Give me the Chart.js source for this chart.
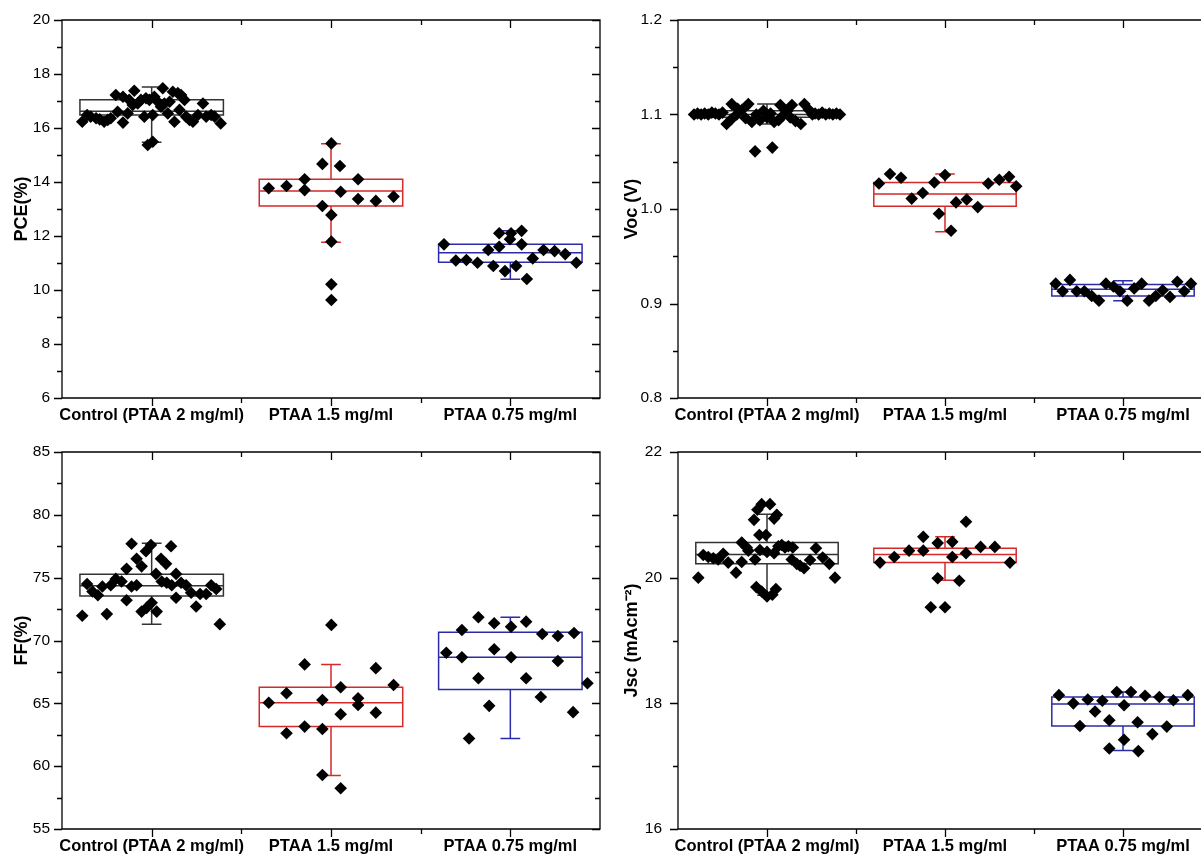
<!DOCTYPE html>
<html>
<head>
<meta charset="utf-8">
<script src="https://cdn.jsdelivr.net/npm/chart.js@4.4.0/dist/chart.umd.min.js"></script>
<style>
body { margin: 0; background: #fff; overflow: hidden; width: 1201px; height: 861px; position: relative; }
canvas { position: absolute; }
</style>
</head>
<body>
<canvas id="pce" width="612" height="432" style="left:0;top:0"></canvas>
<canvas id="voc" width="615" height="432" style="left:615px;top:0"></canvas>
<canvas id="ff" width="612" height="429" style="left:0;top:432px"></canvas>
<canvas id="jsc" width="615" height="429" style="left:615px;top:432px"></canvas>
<script>
// categories
const categories = ['Control (PTAA 2 mg/ml)', 'PTAA 1.5 mg/ml', 'PTAA 0.75 mg/ml'];
const boxColors = ['#333333', '#d42a2a', '#2b2ba8'];

// points: [x offset from category centre, value]
const pceControl = [[-0.387,16.23],[-0.36,16.48],[-0.34,16.42],[-0.31,16.36],[-0.29,16.32],[-0.265,16.23],[-0.245,16.30],[-0.228,16.36],[-0.19,16.6],[-0.16,16.2],[-0.134,16.54],[-0.097,17.38],[-0.2,17.22],[-0.16,17.16],[-0.125,17.04],[-0.106,16.85],[-0.078,16.91],[-0.06,17.04],[-0.041,16.42],[-0.032,17.1],[-0.013,17.04],[0.006,16.48],[0.015,17.16],[0.034,16.97],[0.062,17.47],[0.052,16.79],[0.071,16.91],[0.09,16.54],[0.1,16.97],[0.118,17.34],[0.127,16.23],[0.146,17.29],[0.155,16.67],[0.164,17.22],[0.183,17.04],[0.192,16.42],[0.211,16.3],[0.23,16.23],[0.258,16.48],[0.286,16.91],[0.304,16.42],[0.332,16.48],[0.351,16.42],[0.385,16.17],[-0.022,15.37],[0.006,15.49]];
const pce15 = [[0.002,15.43],[-0.048,14.67],[0.05,14.59],[-0.147,14.1],[0.151,14.1],[-0.347,13.77],[-0.248,13.85],[-0.147,13.7],[0.054,13.64],[0.151,13.37],[0.25,13.3],[0.349,13.46],[-0.048,13.11],[0.002,12.78],[0.002,11.79],[0.002,10.21],[0.002,9.63]];
const pce075 = [[-0.37,11.69],[-0.304,11.09],[-0.245,11.11],[-0.183,11.01],[-0.123,11.48],[-0.095,10.89],[-0.062,12.1],[-0.062,11.6],[-0.03,10.7],[-0.002,11.88],[0.004,12.1],[0.032,10.89],[0.063,12.19],[0.063,11.69],[0.092,10.41],[0.125,11.17],[0.185,11.48],[0.247,11.44],[0.306,11.33],[0.368,11.01]];
// box stats: [low whisker, q1, median, q3, high whisker]
const pceBox = [[15.47,16.48,16.62,17.05,17.52],[11.77,13.11,13.67,14.1,15.42],[10.4,11.03,11.38,11.69,12.19]];

const vocControl = [[-0.41,1.100],[-0.39,1.101],[-0.37,1.100],[-0.35,1.101],[-0.33,1.100],[-0.31,1.102],[-0.29,1.101],[-0.27,1.100],[-0.25,1.102],[-0.227,1.090],[-0.2,1.095],[-0.17,1.100],[-0.14,1.105],[-0.105,1.111],[-0.198,1.111],[-0.165,1.106],[-0.12,1.096],[-0.085,1.092],[-0.06,1.100],[-0.04,1.094],[-0.02,1.104],[0.0,1.097],[0.02,1.101],[0.04,1.092],[0.065,1.094],[0.09,1.099],[0.115,1.104],[0.14,1.110],[0.075,1.110],[0.1,1.105],[0.13,1.097],[0.16,1.093],[0.19,1.090],[0.21,1.111],[0.235,1.105],[0.255,1.100],[0.27,1.101],[0.29,1.100],[0.31,1.102],[0.33,1.100],[0.35,1.101],[0.37,1.100],[0.39,1.101],[0.41,1.100],[-0.067,1.061],[0.03,1.065]];
const voc15 = [[-0.371,1.027],[-0.309,1.037],[-0.247,1.033],[-0.187,1.011],[-0.125,1.017],[-0.06,1.028],[-0.034,0.995],[0.0,1.036],[0.034,0.977],[0.062,1.007],[0.122,1.010],[0.184,1.002],[0.243,1.027],[0.305,1.031],[0.36,1.034],[0.4,1.024]];
const voc075 = [[-0.378,0.921],[-0.298,0.925],[-0.339,0.913],[-0.26,0.913],[-0.217,0.913],[-0.176,0.908],[-0.135,0.903],[-0.096,0.921],[-0.054,0.918],[-0.017,0.913],[0.024,0.903],[0.063,0.916],[0.105,0.921],[0.146,0.903],[0.184,0.908],[0.223,0.914],[0.264,0.907],[0.305,0.923],[0.344,0.913],[0.382,0.921]];
const vocBox = [[1.090,1.097,1.100,1.104,1.111],[0.976,1.003,1.016,1.028,1.037],[0.903,0.908,0.915,0.920,0.924]];

const ffControl = [[-0.387,71.97],[-0.36,74.5],[-0.33,73.9],[-0.30,73.6],[-0.275,74.3],[-0.25,72.1],[-0.228,74.4],[-0.2,74.9],[-0.168,74.7],[-0.14,75.7],[-0.14,73.2],[-0.112,77.7],[-0.112,74.3],[-0.084,76.5],[-0.084,74.4],[-0.056,75.9],[-0.056,72.3],[-0.032,77.1],[-0.028,72.6],[-0.004,77.6],[0.0,73.0],[0.024,75.3],[0.028,72.3],[0.052,76.5],[0.056,74.7],[0.08,76.1],[0.084,74.6],[0.108,77.5],[0.112,74.4],[0.136,75.3],[0.136,73.4],[0.164,74.6],[0.192,74.4],[0.22,73.8],[0.248,72.7],[0.27,73.7],[0.304,73.7],[0.332,74.4],[0.36,74.1],[0.38,71.3]];
const ff15 = [[0.002,71.24],[-0.147,68.1],[0.25,67.8],[0.349,66.46],[0.054,66.28],[-0.248,65.8],[-0.347,65.05],[-0.048,65.27],[0.151,65.4],[0.151,64.87],[0.054,64.13],[0.25,64.26],[-0.248,62.62],[-0.147,63.15],[-0.048,62.96],[-0.048,59.3],[0.054,58.24]];
const ff075 = [[-0.357,69.03],[-0.27,70.84],[-0.27,68.67],[-0.178,71.85],[-0.09,71.37],[-0.09,69.3],[0.004,71.1],[0.004,68.67],[0.088,71.5],[0.178,70.52],[0.265,70.36],[0.265,68.37],[-0.178,67.0],[0.088,67.0],[-0.118,64.8],[0.17,65.5],[0.35,64.3],[0.43,66.6],[0.355,70.6],[-0.23,62.2]];
const ffBox = [[71.3,73.54,74.36,75.27,77.73],[59.25,63.15,65.05,66.28,68.1],[62.2,66.1,68.67,70.65,71.85]];

const jscControl = [[-0.386,20.0],[-0.358,20.36],[-0.33,20.33],[-0.302,20.31],[-0.274,20.29],[-0.246,20.38],[-0.218,20.24],[-0.174,20.08],[-0.142,20.56],[-0.142,20.25],[-0.114,20.48],[-0.105,20.43],[-0.073,20.92],[-0.067,20.29],[-0.054,21.08],[-0.043,20.68],[-0.04,20.44],[-0.03,21.17],[-0.006,20.68],[0.0,20.41],[0.017,21.17],[0.04,20.39],[0.04,20.94],[0.055,21.0],[0.064,20.5],[0.083,20.52],[0.101,20.48],[0.12,20.5],[0.139,20.29],[0.145,20.48],[0.167,20.22],[0.186,20.19],[0.208,20.15],[0.242,20.28],[0.275,20.47],[0.313,20.32],[0.35,20.22],[0.382,20.0],[-0.06,19.85],[-0.03,19.78],[0.0,19.70],[0.03,19.73],[0.05,19.82]];
const jsc15 = [[-0.365,20.24],[-0.285,20.33],[-0.202,20.43],[-0.122,20.43],[-0.122,20.65],[-0.041,20.55],[-0.041,19.99],[0.041,20.57],[0.041,20.33],[0.08,19.95],[0.118,20.39],[0.118,20.89],[0.2,20.49],[0.28,20.49],[0.365,20.24],[-0.08,19.53],[0.0,19.53]];
const jsc075 = [[-0.36,18.13],[-0.279,18.0],[-0.198,18.06],[-0.242,17.64],[-0.157,17.87],[-0.116,18.04],[-0.077,17.73],[-0.077,17.28],[-0.035,18.18],[0.006,17.97],[0.006,17.42],[0.045,18.18],[0.082,17.7],[0.086,17.24],[0.124,18.12],[0.165,17.51],[0.204,18.1],[0.246,17.63],[0.283,18.05],[0.364,18.13]];
const jscBox = [[19.72,20.22,20.37,20.56,21.01],[19.96,20.24,20.37,20.47,20.65],[17.25,17.64,17.99,18.1,18.18]];

// boxes + frame drawn with the chart's scales
const boxPlugin = {
  id: 'boxes',
  beforeDatasetsDraw(chart) {
    const boxes = chart.options.plugins.boxes.data;
    const x = chart.scales.x, y = chart.scales.y, ctx = chart.ctx;
    ctx.save();
    ctx.lineWidth = 1.5;
    boxes.forEach((b, i) => {
      const c = i + 1;
      const x0 = x.getPixelForValue(c - 0.4), x1 = x.getPixelForValue(c + 0.4);
      const xc = x.getPixelForValue(c);
      const cw = x.getPixelForValue(c + 0.055) - xc;
      const [lo, q1, md, q3, hi] = b.map(v => y.getPixelForValue(v));
      ctx.strokeStyle = boxColors[i];
      ctx.beginPath();
      ctx.rect(x0, q3, x1 - x0, q1 - q3);
      ctx.moveTo(x0, md); ctx.lineTo(x1, md);
      ctx.moveTo(xc, q3); ctx.lineTo(xc, hi);
      ctx.moveTo(xc - cw, hi); ctx.lineTo(xc + cw, hi);
      ctx.moveTo(xc, q1); ctx.lineTo(xc, lo);
      ctx.moveTo(xc - cw, lo); ctx.lineTo(xc + cw, lo);
      ctx.stroke();
    });
    ctx.restore();
  },
  afterDraw(chart) {
    const a = chart.chartArea, ctx = chart.ctx;
    const x = chart.scales.x, y = chart.scales.y;
    const major = chart.options.plugins.boxes.major;
    ctx.save();
    ctx.strokeStyle = '#000';
    ctx.lineWidth = 1.3;
    ctx.beginPath();
    ctx.rect(a.left, a.top, a.right - a.left, a.bottom - a.top);
    y.ticks.forEach(t => {
      const p = Math.round(y.getPixelForValue(t.value)) + 0.5;
      const isMajor = Math.abs(t.value / major - Math.round(t.value / major)) < 1e-6;
      const len = isMajor ? 8 : 5;
      ctx.moveTo(a.left - len, p); ctx.lineTo(a.left, p);
      ctx.moveTo(a.right, p); ctx.lineTo(a.right - len, p);
    });
    x.ticks.forEach(t => {
      const p = Math.round(x.getPixelForValue(t.value)) + 0.5;
      const len = Number.isInteger(t.value) ? 8 : 5;
      ctx.moveTo(p, a.bottom); ctx.lineTo(p, a.bottom + len);
      ctx.moveTo(p, a.top); ctx.lineTo(p, a.top + len);
    });
    ctx.stroke();
    ctx.restore();
  }
};

function makeChart(id, title, groups, boxes, yMin, yMax, minor, major, decimals, left, right, top, bottom, titlePad, tickPad) {
  const el = document.getElementById(id);
  const datasets = groups.map((g, i) => ({
    data: g.map(p => ({ x: i + 1 + p[0], y: p[1] })),
    pointStyle: 'rectRot',
    pointRadius: 6.3,
    pointBackgroundColor: '#000',
    pointBorderWidth: 0,
    showLine: false
  }));
  return new Chart(el, {
    type: 'scatter',
    data: { datasets },
    plugins: [boxPlugin],
    options: {
      responsive: false,
      animation: false,
      layout: { padding: { top: top, right: el.width - right, left: 0, bottom: 0 } },
      plugins: {
        legend: { display: false },
        tooltip: { enabled: false },
        boxes: { data: boxes, major: major }
      },
      scales: {
        x: {
          type: 'linear',
          min: 0.5, max: 3.5,
          grid: { display: false },
          border: { display: false },
          afterBuildTicks: s => { s.ticks = [1, 1.5, 2, 2.5, 3].map(v => ({ value: v })); },
          afterFit: s => { s.height = el.height - bottom; },
          ticks: {
            autoSkip: false, maxRotation: 0, padding: 0,
            color: '#000',
            font: { family: 'Liberation Sans, Arial, sans-serif', size: 16.5, weight: 'bold' },
            callback: v => Number.isInteger(v) ? categories[v - 1] : ''
          }
        },
        y: {
          min: yMin, max: yMax,
          grid: { display: false },
          border: { display: false },
          afterFit: s => { s.width = left; },
          title: {
            display: true, text: title, color: '#000',
            padding: { top: titlePad, bottom: 0 },
            font: { family: 'Liberation Sans, Arial, sans-serif', size: 18, weight: 'bold' }
          },
          ticks: {
            stepSize: minor, padding: tickPad, color: '#000',
            font: { family: 'Liberation Sans, Arial, sans-serif', size: 15.5 },
            callback: v => Math.abs(v / major - Math.round(v / major)) < 1e-6 ? v.toFixed(decimals) : ''
          }
        }
      }
    }
  });
}

makeChart('pce', 'PCE(%)', [pceControl, pce15, pce075], pceBox, 6, 20, 1, 2, 0, 62, 600, 20, 398, 11, 4);
makeChart('voc', 'Voc (V)', [vocControl, voc15, voc075], vocBox, 0.8, 1.2, 0.05, 0.1, 1, 63, 597, 20, 398, 6, 8);
makeChart('ff', 'FF(%)', [ffControl, ff15, ff075], ffBox, 55, 85, 2.5, 5, 0, 62, 600, 20, 397, 11, 4);
makeChart('jsc', 'Jsc (mAcm\u207B\u00B2)', [jscControl, jsc15, jsc075], jscBox, 16, 22, 1, 2, 0, 63, 597, 20, 397, 6, 8);
</script>
</body>
</html>
